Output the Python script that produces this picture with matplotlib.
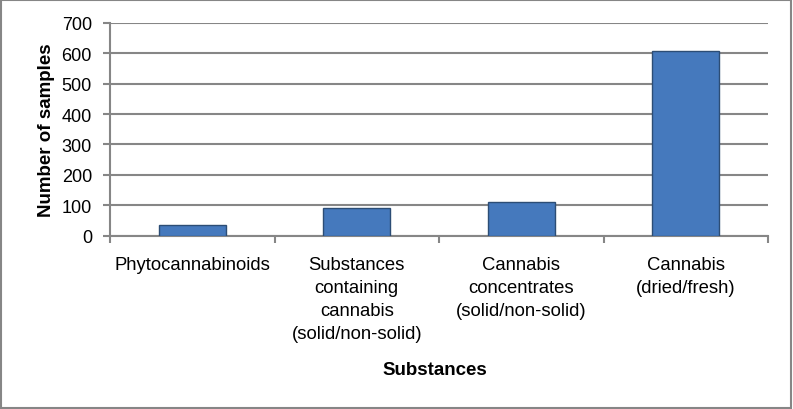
import matplotlib.pyplot as plt
from matplotlib.patches import Rectangle

categories = ["Phytocannabinoids",
              "Substances\ncontaining\ncannabis\n(solid/non-solid)",
              "Cannabis\nconcentrates\n(solid/non-solid)",
              "Cannabis\n(dried/fresh)"]
samples = [36, 92, 112, 608]

plt.rcParams["font.family"] = ["Liberation Sans", "DejaVu Sans"]

fig = plt.figure(figsize=(7.93, 4.10), dpi=100)
ax = fig.add_axes([110 / 793, (410 - 236.5) / 410, 658 / 793, 212.5 / 410])

x = range(len(categories))
ax.bar(x, samples, width=0.41, color="#4579bd", edgecolor="#2c4d75",
       linewidth=1.0, zorder=3)

ax.set_xlim(-0.5, len(categories) - 0.5)
ax.set_ylim(0, 700)
ax.set_yticks(range(0, 701, 100))
ax.yaxis.grid(True, color="#868686", linewidth=1.5, zorder=0)

ax.set_xticks([i + 0.5 for i in range(-1, len(categories))], minor=False)
ax.set_xticklabels([""] * (len(categories) + 1))
ax.set_xticks(list(x), minor=True)
ax.set_xticklabels(categories, minor=True, fontsize=13.3, va="top",
                   linespacing=1.45)
ax.tick_params(axis="x", which="minor", length=0, pad=15)
ax.tick_params(axis="x", which="major", length=5, width=1.5, color="#868686")
ax.tick_params(axis="y", length=5, width=1.5, color="#868686", labelsize=13,
               pad=8)

for side in ["top", "right"]:
    ax.spines[side].set_visible(False)
for side in ["left", "bottom"]:
    ax.spines[side].set_color("#868686")
    ax.spines[side].set_linewidth(1.5)

ax.set_ylabel("Number of samples", fontsize=13.5, fontweight="bold", labelpad=5)
fig.text(435 / 793, 1 - 371 / 410, "Substances", fontsize=13.5,
         fontweight="bold", ha="center", va="center")

fig.patches.append(Rectangle((0.001, 0.002), 0.997, 0.995, transform=fig.transFigure,
                             fill=False, edgecolor="#868686", linewidth=1.5))

fig.savefig("out.png", dpi=100)
